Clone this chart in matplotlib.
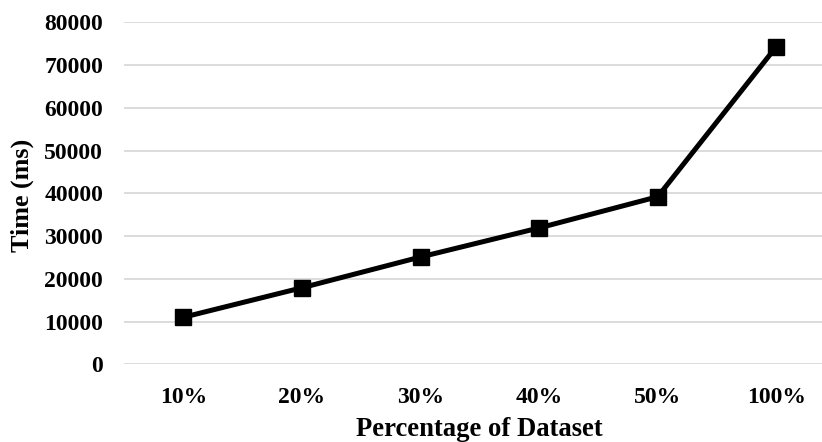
import matplotlib.pyplot as plt

categories = ["10%", "20%", "30%", "40%", "50%", "100%"]
times_ms = [11000, 17900, 25100, 31900, 39200, 74300]
y_ticks = [0, 10000, 20000, 30000, 40000, 50000, 60000, 70000, 80000]

plt.rcParams['font.family'] = ['Liberation Serif', 'DejaVu Serif']
plt.rcParams['font.weight'] = 'bold'

W, H = 822, 442
fig = plt.figure(figsize=(W / 100, H / 100), dpi=100)
# plot area in pixels (slightly cropped on the right like the original)
left, right, top, bottom = 124, 835.6, 22.3, 364.3
ax = fig.add_axes([left / W, 1 - bottom / H, (right - left) / W, (bottom - top) / H])

x = range(len(categories))
ax.plot(x, times_ms, color='black', linewidth=3.6, marker='s', markersize=11,
        zorder=3, clip_on=False)

ax.set_xlim(-0.5, len(categories) - 0.5)
ax.set_ylim(0, 80000)
ax.set_yticks(y_ticks)
ax.set_yticklabels([str(v) for v in y_ticks])
ax.set_xticks(list(x))
ax.set_xticklabels(categories)
ax.tick_params(length=0, labelsize=17)
ax.tick_params(axis='y', pad=15)
ax.tick_params(axis='x', pad=16)
ax.grid(axis='y', color='#d9d9d9', linewidth=1.3)
ax.set_axisbelow(True)
for s in ax.spines.values():
    s.set_visible(False)

fig.text(22 / W, 1 - 195 / H, "Time (ms)", rotation=90, ha='center', va='center',
         fontsize=18.8, fontweight='bold')
fig.text(479 / W, 1 - 430 / H, "Percentage of Dataset", ha='center', va='center',
         fontsize=19.2, fontweight='bold')

fig.savefig("out.png", dpi=100)
